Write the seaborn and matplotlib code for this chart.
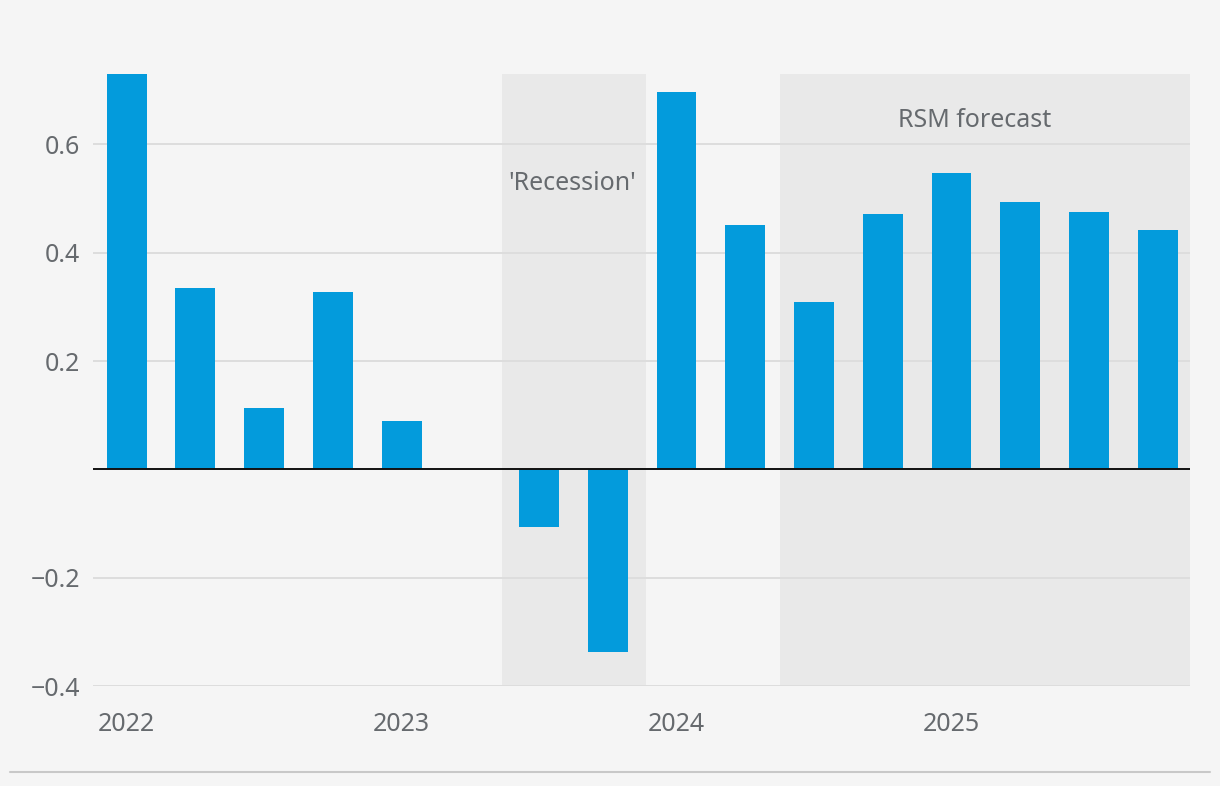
import pandas as pd
import matplotlib.pyplot as plt
import seaborn as sns
from matplotlib.lines import Line2D

# Quarterly values, 2022 Q1 to 2025 Q4
quarters = [f"{y}Q{q}" for y in range(2022, 2026) for q in range(1, 5)]
values = [0.73, 0.335, 0.113, 0.328, 0.089, 0.0, -0.106, -0.337,
          0.697, 0.452, 0.309, 0.472, 0.548, 0.493, 0.476, 0.441]
year_labels = ["2022", "2023", "2024", "2025"]
y_ticks = [-0.4, -0.2, 0.2, 0.4, 0.6]

df = pd.DataFrame({"Quarter": quarters, "Value": values})

bg = "#f5f5f5"
shade = "#e9e9e9"
text_col = "#666a6e"

sns.set_theme(style="white")
plt.rcParams["font.family"] = ["Noto Sans", "DejaVu Sans"]

fig = plt.figure(figsize=(12.2, 7.86), dpi=100, facecolor=bg)
ax = fig.add_axes([0.0762, 0.1272, 0.8992, 0.7787])
ax.set_facecolor(bg)

# Shaded periods
ax.axvspan(5.46, 7.55, color=shade, zorder=0, lw=0)
ax.axvspan(9.5, 15.6, color=shade, zorder=0, lw=0)

sns.barplot(data=df, x="Quarter", y="Value", order=quarters,
            color="#039bdc", saturation=1, width=0.58, linewidth=0,
            ax=ax, zorder=3)

ax.set_xlim(-0.49, 15.47)
ax.set_ylim(-0.4, 0.73)

# Gridlines
for t in y_ticks:
    ax.axhline(t, color="#dddddd", lw=1.4, zorder=1)
ax.axhline(0, color="#111111", lw=1.4, zorder=4)

ax.set_yticks(y_ticks)
ax.set_yticklabels([f"{t:.1f}".replace("-", "\u2212") for t in y_ticks])
ax.set_xticks([0, 4, 8, 12])
ax.set_xticklabels(year_labels)
ax.tick_params(axis="both", length=0, labelsize=18, labelcolor=text_col)
ax.tick_params(axis="y", pad=9)
ax.tick_params(axis="x", pad=19)
ax.set_xlabel("")
ax.set_ylabel("")
for s in ax.spines.values():
    s.set_visible(False)

ax.text(6.49, 0.528, "'Recession'", ha="center", va="center",
        fontsize=18, color=text_col, zorder=5)
ax.text(12.34, 0.645, "RSM forecast", ha="center", va="center",
        fontsize=18, color=text_col, zorder=5)

# Bottom rule
fig.add_artist(Line2D([10 / 1220, 1210 / 1220], [1 - 772 / 786] * 2,
                      color="#c8c8c8", lw=1.5))

plt.savefig("out.png", dpi=100, facecolor=bg)
